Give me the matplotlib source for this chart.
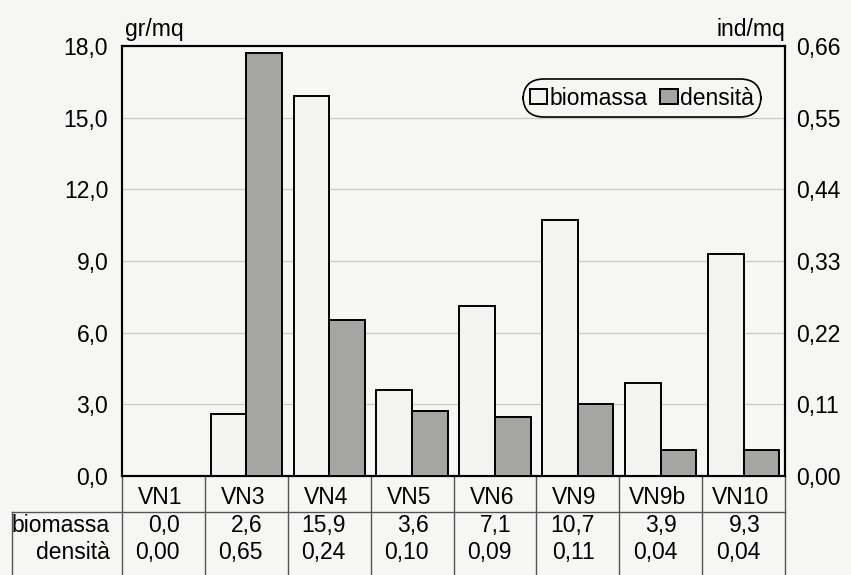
import matplotlib.pyplot as plt
from matplotlib.ticker import FixedLocator, FuncFormatter
from matplotlib.transforms import blended_transform_factory

# stations and measured values
stations = ["VN1", "VN3", "VN4", "VN5", "VN6", "VN9", "VN9b", "VN10"]
biomassa = [0.0, 2.6, 15.9, 3.6, 7.1, 10.7, 3.9, 9.3]      # gr/mq
densita = [0.00, 0.65, 0.24, 0.10, 0.09, 0.11, 0.04, 0.04]  # ind/mq

left_ticks = [0, 3, 6, 9, 12, 15, 18]
right_ticks = [0.0, 0.11, 0.22, 0.33, 0.44, 0.55, 0.66]

BG = "#f6f6f4"
LIGHT = "#f3f3f1"
DARK = "#a5a5a3"
FS = 16.5

plt.rcParams["font.family"] = ["Liberation Sans", "DejaVu Sans"]


def comma(fmt):
    return FuncFormatter(lambda v, _: format(v, fmt).replace(".", ","))


def main():
    fig = plt.figure(figsize=(8.51, 5.75), dpi=100, facecolor=BG)
    ax = fig.add_axes([0.1434, 0.1722, 0.7791, 0.7478])
    ax.set_facecolor(BG)
    ax2 = ax.twinx()

    x = list(range(len(stations)))
    w = 0.43
    ax.bar([i - w / 2 for i in x], biomassa, width=w, color=LIGHT,
           edgecolor="black", linewidth=1.4, label="biomassa", zorder=3)
    ax2.bar([i + w / 2 for i in x], densita, width=w, color=DARK,
            edgecolor="black", linewidth=1.4, label="densità", zorder=3)

    ax.set_xlim(-0.5, len(stations) - 0.5)
    ax.set_ylim(0, 18)
    ax2.set_ylim(0, 0.66)
    ax.yaxis.set_major_locator(FixedLocator(left_ticks))
    ax2.yaxis.set_major_locator(FixedLocator(right_ticks))
    ax.yaxis.set_major_formatter(comma(".1f"))
    ax2.yaxis.set_major_formatter(comma(".2f"))
    ax.set_xticks([])
    ax.tick_params(axis="y", length=0, pad=10, labelsize=FS)
    ax2.tick_params(axis="y", length=0, pad=8, labelsize=FS)
    ax.grid(axis="y", color="#c8c8c6", linewidth=0.9, zorder=0)

    for a in (ax, ax2):
        for s in a.spines.values():
            s.set_linewidth(1.5)
            s.set_color("black")

    # unit labels above the axes
    ax.text(0.005, 1.012, "gr/mq", transform=ax.transAxes, ha="left",
            va="bottom", fontsize=FS)
    ax.text(1.0, 1.012, "ind/mq", transform=ax.transAxes, ha="right",
            va="bottom", fontsize=FS)

    # legend
    h1, l1 = ax.get_legend_handles_labels()
    h2, l2 = ax2.get_legend_handles_labels()
    leg = ax2.legend(h1 + h2, l1 + l2, loc="upper right",
                     bbox_to_anchor=(0.957, 0.912), fontsize=FS, ncol=2,
                     handlelength=0.75, handleheight=0.6, handletextpad=0.1,
                     columnspacing=0.55, borderpad=0.12, borderaxespad=0,
                     frameon=True, fancybox=True, framealpha=1)
    frame = leg.get_frame()
    frame.set_facecolor(BG)
    frame.set_edgecolor("black")
    frame.set_linewidth(1.2)
    frame.set_boxstyle("round,pad=0.2,rounding_size=0.9")

    # data table under the chart
    tr = blended_transform_factory(ax.transData, ax.transAxes)
    line_kw = dict(color="#555555", linewidth=1.0, clip_on=False)
    y_sep = -0.084
    y_bot = -0.25
    x_left = -0.5 - 110 / 663 * len(stations)
    n = len(stations)
    ax.plot([x_left, n - 0.5], [y_sep, y_sep], transform=tr, **line_kw)
    ax.plot([x_left, x_left], [y_sep, y_bot], transform=tr, **line_kw)
    for b in range(n + 1):
        xb = b - 0.5
        ax.plot([xb, xb], [0, y_bot], transform=tr, **line_kw)

    for i, name in enumerate(stations):
        ax.text(i - 0.04, -0.049, name, transform=tr, ha="center",
                va="center", fontsize=FS)
        ax.text(i + 0.2, -0.114, format(biomassa[i], ".1f").replace(".", ","),
                transform=tr, ha="right", va="center", fontsize=FS)
        ax.text(i + 0.2, -0.178, format(densita[i], ".2f").replace(".", ","),
                transform=tr, ha="right", va="center", fontsize=FS)

    ax.text(-0.018, -0.114, "biomassa", transform=ax.transAxes, ha="right",
            va="center", fontsize=FS)
    ax.text(-0.018, -0.178, "densità", transform=ax.transAxes, ha="right",
            va="center", fontsize=FS)

    fig.savefig("out.png", dpi=100, facecolor=BG)
    plt.close(fig)


if __name__ == "__main__":
    main()
